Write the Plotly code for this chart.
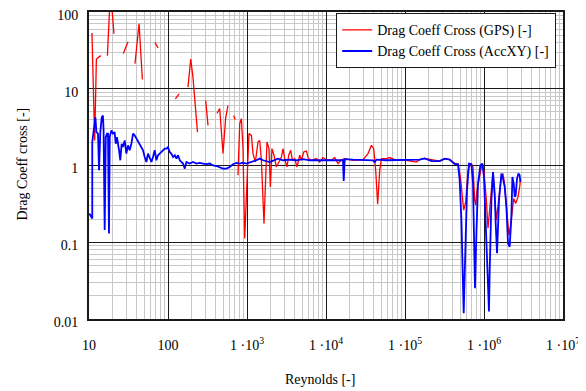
import plotly.graph_objects as go

# Reynolds number / drag coefficient (GPS based); None marks gaps in the data
re_gps = [10.9, 11.8, 12.4, 13.7, 14.1, None,
          17.1, 18.3, 19.4, 20.7, None,
          27.2, 31.2, None,
          38.2, 42.2, 43.0, 47.4, None,
          68.4, 74.7, None,
          124, 138, None,
          179, 194, 207, 236, None,
          300, 321, None,
          417, 451, 497, 537, 574, None,
          679, 705, None,
          769, 809, 849, 889, 935, 982, 1059, 1137, 1191, 1277, 1377, 1449, 1521, 1641, 1726,
          1791, 1898, 1977, 2070, 2198, 2356, 2542, 2725, 2856, 3027, 3206, 3373, 3574, 3758,
          4018, 4295, 4645, 4883, 5224, 5649, 5984, 6531, 7551, 8318, 9162, 10120, 11700,
          12880, 14190, 15670, 17260, 21980, 29380, 34040, 37580, 40180, 42560, 45080, 47860,
          50230, 58210, 63970, 77800, 104200, 139300, 153500, 177500, 205600, 274800, 318400,
          368100, 425600, 468800, 502400, 533300, 553400, 586100, 626700, 672400, 725900,
          762400, 785200, 815200, 882700, 944000, 1000000, 1072000, 1124000, 1181000, 1241000,
          1300000, 1366000, 1435000, 1549000, 1660000, 1741000, 1828000, 1921000, 2072000,
          2158000, 2287000, 2377000, 2518000, 2693000, 2829000, 2888000]
cd_gps = [53.2, 2.12, 24.4, 26.6, 27.0, None,
          27.0, 120, 120, 52.1, None,
          28.7, 41.0, None,
          21.2, 70.3, 70.3, 13.2, None,
          40.2, 34.0, None,
          7.39, 8.58, None,
          10.5, 24.4, 14.1, 2.72, None,
          7.03, 3.33, None,
          4.76, 5.53, 1.44, 4.14, 6.05, None,
          4.49, 3.98, None,
          0.746, 3.50, 4.06, 1.74, 0.112, 0.436, 2.60, 2.47, 1.43, 1.11, 2.02, 2.12, 1.17, 0.176, 0.866,
          2.02, 1.66, 0.526, 1.66, 1.36, 0.956, 1.11, 1.29, 1.66, 1.17, 0.956, 1.36, 1.58, 1.17,
          1.23, 0.956, 1.36, 1.17, 1.50, 1.54, 1.23, 1.17, 1.23, 1.11, 1.27, 1.19, 1.17,
          1.27, 1.06, 1.19, 1.23, 1.17, 1.19, 1.43, 1.83, 1.66, 0.866, 0.313, 0.866,
          1.23, 1.23, 1.27, 1.17, 1.17, 1.11, 1.19, 1.24, 1.21, 1.14, 1.23,
          1.19, 1.07, 1.04, 0.709, 0.390, 0.262, 0.336, 0.866, 1.06, 0.956,
          0.353, 0.304, 0.476, 0.785, 1.06, 0.824, 0.353, 0.152, 0.289, 0.582,
          0.824, 0.390, 0.194, 0.390, 0.709, 0.785, 0.553, 0.289, 0.124,
          0.159, 0.289, 0.372, 0.320, 0.390, 0.526, 0.643]

# Reynolds number / drag coefficient (accelerometer based)
re_acc = [10.1, 11.0, 11.0, 11.7, 12.05, 12.4, 13.0, 13.4, 13.9, 14.5, 15.0, 15.3, 15.8, 16.3,
          16.9, 17.4, 17.9, 18.3, 19.2, 20.1, 21.1, 21.8, 22.6, 24.0, 24.9, 25.9, 26.9, 28.3,
          29.7, 31.2, 32.7, 34.4, 36.1, 37.8, 39.8, 41.7, 43.9, 46.0, 48.3, 50.7, 53.3, 55.8,
          58.6, 61.7, 64.6, 67.9, 71.3, 74.7, 78.5, 82.4, 86.5, 90.8, 95.5, 100, 105, 110, 116,
          122, 128, 134, 141, 155, 163, 171, 188, 207, 229, 252, 277, 306, 337, 372, 410, 451,
          497, 548, 604, 665, 735, 809, 889, 982, 1081, 1191, 1315, 1449, 1596, 1937, 2244,
          2467, 2856, 3475, 4217, 5117, 6223, 8318, 11140, 13550, 16410, 16750, 17260, 21980,
          29380, 39360, 41300, 43450, 58210, 94400, 153500, 177500, 217800, 274800, 318400,
          368100, 425600, 468800, 492000, 517600, 533300, 553400, 570200, 586100, 609500,
          645700, 693400, 725900, 746500, 769100, 801700, 839500, 899500, 955000, 1000000,
          1072000, 1124000, 1156000, 1181000, 1241000, 1300000, 1366000, 1406000, 1462000,
          1549000, 1660000, 1741000, 1828000, 1921000, 2014000, 2113000, 2222000, 2287000,
          2377000, 2449000, 2518000, 2618000, 2729000, 2829000, 2888000]
cd_acc = [0.237, 0.204, 2.02, 3.16, 4.26, 2.72, 2.60, 0.866, 2.72, 4.26, 4.49, 2.87, 0.144, 2.34,
          2.60, 2.60, 0.130, 2.34, 2.87, 2.60, 2.72, 1.92, 2.34, 1.58, 1.17, 1.92, 1.74, 2.12,
          1.43, 1.83, 1.58, 1.92, 2.60, 2.47, 2.24, 2.12, 1.92, 1.74, 1.58, 1.29, 1.11, 1.43,
          1.23, 1.11, 1.29, 1.58, 1.17, 1.36, 1.43, 1.50, 1.58, 1.66, 1.66, 1.74, 1.50, 1.43, 1.29,
          1.36, 1.23, 1.36, 1.17, 1.06, 0.911, 1.11, 1.06, 1.11, 1.06, 1.08, 1.06, 1.04, 1.06, 1.0, 0.985, 0.956,
          0.911, 0.911, 0.956, 1.04, 1.08, 1.06, 1.09, 1.06, 1.09, 1.13, 1.17, 1.23, 1.17, 1.11, 1.17,
          1.23, 1.17, 1.19, 1.17, 1.21, 1.17, 1.17, 1.17, 1.19, 1.17, 0.629, 1.21, 1.19,
          1.17, 1.17, 1.11, 1.19, 1.17, 1.19, 1.19, 1.24, 1.14, 1.14, 1.23,
          1.19, 1.04, 1.04, 0.643, 0.194, 0.0648, 0.0119, 0.0395, 0.107, 0.476,
          1.06, 1.04, 0.582, 0.107, 0.0252, 0.130, 0.582, 1.0, 1.06, 0.709,
          0.107, 0.0395, 0.0125, 0.0436, 0.353, 0.824, 0.432, 0.176, 0.0718,
          0.353, 0.785, 0.676, 0.526, 0.289, 0.0968, 0.0874, 0.214, 0.709,
          0.582, 0.390, 0.410, 0.676, 0.785, 0.746, 0.611]

x_tickvals = [1e1, 1e2, 1e3, 1e4, 1e5, 1e6, 1e7]
x_ticktext = ["10", "100", "1 \u00b710<sup>3</sup>", "1 \u00b710<sup>4</sup>",
              "1 \u00b710<sup>5</sup>", "1 \u00b710<sup>6</sup>", "1 \u00b710<sup>7</sup>"]
y_tickvals = [0.01, 0.1, 1, 10, 100]
y_ticktext = ["0.01", "0.1", "1", "10", "100"]

FONT = "Liberation Serif, Times New Roman, serif"
FS = 14

fig = go.Figure()
fig.add_trace(go.Scatter(x=re_gps, y=cd_gps, mode="lines", name="Drag Coeff Cross (GPS) [-]",
                         line=dict(color="#ff0000", width=1.3)))
fig.add_trace(go.Scatter(x=re_acc, y=cd_acc, mode="lines", name="Drag Coeff Cross (AccXY) [-]",
                         line=dict(color="#0000ff", width=1.8)))

axis_common = dict(
    type="log", showgrid=True, gridcolor="#1a1a1a", gridwidth=1.4, automargin=False,
    minor=dict(showgrid=True, gridcolor="#c8c8c8", gridwidth=1.3, dtick="D1", ticks=""),
    showline=True, linecolor="#1a1a1a", linewidth=2, mirror=True, ticks="",
    zeroline=False, tickfont=dict(family=FONT, size=FS, color="black"),
    ticklabeloverflow="allow",
)

# the page body adds an 8 px offset, so the figure is 8 px smaller and margins shifted
fig.update_layout(
    width=578, height=383,
    margin=dict(l=81, r=23, t=4, b=72, autoexpand=False),
    paper_bgcolor="white", plot_bgcolor="white",
    font=dict(family=FONT, size=FS, color="black"),
    showlegend=True,
    legend=dict(x=0.985, xanchor="right", y=0.997, yanchor="top",
                bgcolor="white", bordercolor="#1a1a1a", borderwidth=1.3,
                font=dict(family=FONT, size=FS, color="black"),
                itemwidth=30, tracegroupgap=0),
    xaxis=dict(axis_common, range=[1, 7], tickvals=x_tickvals, ticktext=x_ticktext,
               ticklabelstandoff=12),
    yaxis=dict(axis_common, range=[-2, 2], tickvals=y_tickvals, ticktext=y_ticktext,
               ticklabelstandoff=6, ticklabelshift=3),
    annotations=[
        dict(text="Reynolds [-]", xref="paper", yref="paper", x=0.488, y=-0.197,
             showarrow=False, font=dict(family=FONT, size=FS, color="black"),
             xanchor="center", yanchor="middle"),
        dict(text="Drag Coeff cross [-]", xref="paper", yref="paper", x=-0.140, y=0.505,
             showarrow=False, textangle=-90, font=dict(family=FONT, size=FS, color="black"),
             xanchor="center", yanchor="middle"),
    ],
)

fig.write_html("out.html")
